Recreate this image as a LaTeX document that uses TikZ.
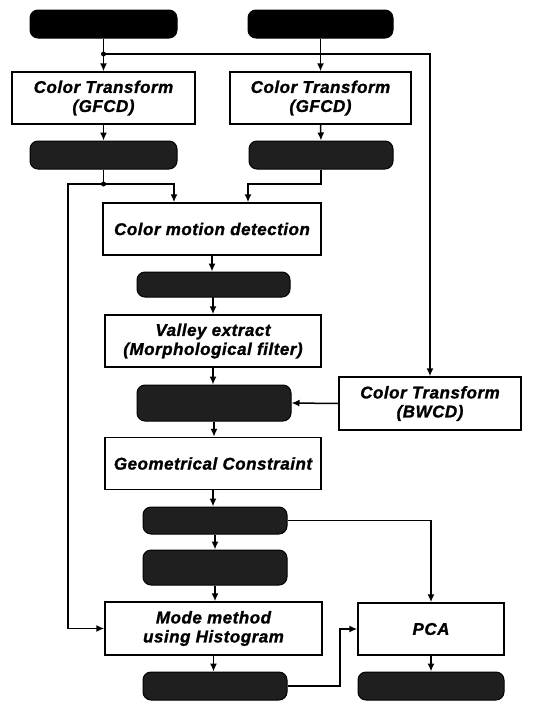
\documentclass[tikz,border=0pt]{standalone}
\usepackage{fontspec}
\setmainfont{Liberation Sans}[BoldItalicFeatures={FakeBold=1.2,LetterSpace=3}]
\usetikzlibrary{arrows.meta}
\begin{document}
\begin{tikzpicture}[x=1pt,y=-1pt,
  box/.style={draw, line width=1.5pt, fill=white, align=center, inner sep=0pt,
    font=\fontsize{17}{19}\selectfont\bfseries\itshape},
  pill/.style={draw, line width=1pt, fill=black!88, rounded corners=8pt, inner sep=0pt, minimum height=28},
  solidpill/.style={pill, fill=black},
  conn/.style={line width=1.5pt, -{Latex[length=8pt,width=7pt]}},
  plain/.style={line width=1.5pt},
  jdot/.style={circle, fill=black, inner sep=0pt, minimum size=5pt}
]
\useasboundingbox (0,0) rectangle (534,702);

% nodes
\node[solidpill, minimum width=147] (p1) at (103.5,24) {};
\node[solidpill, minimum width=145] (p2) at (320.5,24) {};
\node[box, minimum width=183, minimum height=52] (ct1) at (103.5,98) {Color Transform\\(GFCD)};
\node[box, minimum width=181, minimum height=52] (ct2) at (320.5,98) {Color Transform\\(GFCD)};
\node[pill, minimum width=147] (p3) at (103.5,155) {};
\node[pill, minimum width=144] (p4) at (321,155) {};
\node[box, minimum width=218, minimum height=52] (cmd) at (212,229) {Color motion detection};
\node[pill, minimum width=153, minimum height=25] (p5) at (213.5,284.5) {};
\node[box, minimum width=216, minimum height=52] (ve) at (213,341) {Valley extract\\(Morphological filter)};
\node[pill, minimum width=154, minimum height=36] (p6) at (214,403) {};
\node[box, minimum width=182, minimum height=53] (bw) at (430,403.5) {Color Transform\\(BWCD)};
\node[box, minimum width=216, minimum height=52] (gc) at (213,463.5) {Geometrical Constraint};
\node[pill, minimum width=144, minimum height=27] (p7) at (215,520.5) {};
\node[pill, minimum width=144, minimum height=35] (p8) at (215,567.5) {};
\node[box, minimum width=217, minimum height=53] (mm) at (213.5,628.5) {Mode method\\using Histogram};
\node[box, minimum width=146, minimum height=52] (pca) at (431,629) {PCA};
\node[pill, minimum width=144] (p9) at (215,686) {};
\node[pill, minimum width=146] (p10) at (431,686) {};

% coordinates
\coordinate (j1) at (103.5,54);
\coordinate (j2) at (103.5,184);
\coordinate (jr) at (321,184);
\coordinate (ll) at (68,184);
\coordinate (kk) at (340,686);

% connectors
\draw[conn] (p1.south) -- (ct1.north);
\draw[conn] (j1) -| (bw.north);
\node[jdot] (d1) at (j1) {};
\draw[conn] (p2.south) -- (ct2.north);
\draw[conn] (ct1.south) -- (p3.north);
\draw[conn] (ct2.south) -- (p4.north);
\draw[plain] (p3.south) -- (j2);
\draw[conn] (j2) -| ([xshift=-38]cmd.north);
\draw[conn] (p4.south) -- (jr) -| ([xshift=36]cmd.north);
\draw[conn] (j2) -- (ll) |- (mm.west);
\node[jdot] (d2) at (j2) {};
\draw[conn] (cmd.south) -- (cmd.south |- p5.north);
\draw[conn] (p5.south) -- (p5.south -| ve.north) -- (ve.north);
\draw[conn] (ve.south) -- (ve.south |- p6.north);
\draw[conn] (bw.west) -- (p6.east);
\draw[conn] (p6.south) -- (p6.south |- gc.north);
\draw[conn] (gc.south) -- (gc.south |- p7.north);
\draw[conn] (p7.east) -| (pca.north);
\draw[conn] (p7.south) -- (p8.north);
\draw[conn] (p8.south) -- (p8.south |- mm.north);
\draw[conn] (mm.south) -- (mm.south |- p9.north);
\draw[conn] (p9.east) -- (kk) |- (pca.west);
\draw[conn] (pca.south) -- (p10.north);
\end{tikzpicture}
\end{document}
